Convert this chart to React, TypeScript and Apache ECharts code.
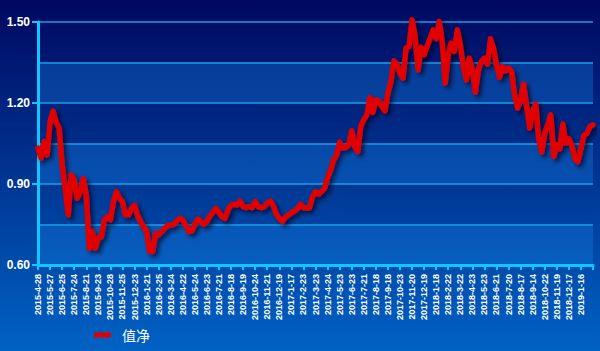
import React, { useEffect, useRef } from "react";
import * as echarts from "echarts";

const tickLabels: string[] = [
  "2015-4-28", "2015-5-27", "2015-6-25", "2015-7-24", "2015-8-21", "2015-9-23",
  "2015-10-28", "2015-11-25", "2015-12-23", "2016-1-21", "2016-2-25", "2016-3-24",
  "2016-4-22", "2016-5-24", "2016-6-23", "2016-7-21", "2016-8-18", "2016-9-19",
  "2016-10-24", "2016-11-21", "2016-12-19", "2017-1-17", "2017-2-23", "2017-3-23",
  "2017-4-24", "2017-5-23", "2017-6-23", "2017-7-21", "2017-8-18", "2017-9-18",
  "2017-10-23", "2017-11-20", "2017-12-19", "2018-1-18", "2018-2-22", "2018-3-22",
  "2018-4-23", "2018-5-23", "2018-6-21", "2018-7-20", "2018-8-17", "2018-9-14",
  "2018-10-22", "2018-11-19", "2018-12-17", "2019-1-16",
];
const endDate = "2019-2-21";

// weekly net values (4 per label interval)
const navValues: number[] = [
  1.033, 0.996, 1.057, 1.008, 1.131, 1.17, 1.13, 1.107, 0.97, 0.884,
  0.785, 0.934, 0.915, 0.847, 0.872, 0.92, 0.86, 0.662, 0.724, 0.662,
  0.70, 0.705, 0.767, 0.779, 0.767, 0.835, 0.872, 0.847, 0.835, 0.785,
  0.785, 0.81, 0.822, 0.785, 0.76, 0.742, 0.724, 0.65, 0.65, 0.717,
  0.711, 0.724, 0.736, 0.746, 0.748, 0.751, 0.763, 0.773, 0.767, 0.748,
  0.724, 0.726, 0.751, 0.771, 0.761, 0.751, 0.761, 0.783, 0.795, 0.81,
  0.795, 0.779, 0.773, 0.804, 0.822, 0.825, 0.822, 0.837, 0.816, 0.813,
  0.816, 0.813, 0.835, 0.816, 0.813, 0.816, 0.829, 0.837, 0.82, 0.788,
  0.773, 0.761, 0.777, 0.785, 0.794, 0.80, 0.808, 0.825, 0.813, 0.81,
  0.813, 0.853, 0.872, 0.862, 0.872, 0.884, 0.924, 0.952, 0.989, 1.008,
  1.055, 1.033, 1.035, 1.045, 1.097, 1.039, 1.02, 1.113, 1.138, 1.156,
  1.22, 1.165, 1.212, 1.208, 1.187, 1.171, 1.237, 1.28, 1.356, 1.344,
  1.311, 1.292, 1.403, 1.41, 1.508, 1.447, 1.323, 1.406, 1.379, 1.41,
  1.44, 1.471, 1.438, 1.502, 1.428, 1.274, 1.379, 1.422, 1.391, 1.471,
  1.416, 1.335, 1.286, 1.366, 1.323, 1.24, 1.323, 1.354, 1.366, 1.344,
  1.438, 1.403, 1.342, 1.295, 1.335, 1.319, 1.329, 1.317, 1.23, 1.181,
  1.212, 1.27, 1.187, 1.107, 1.169, 1.196, 1.064, 1.018, 1.088, 1.119,
  1.156, 1.002, 1.045, 1.03, 1.122, 1.051, 1.067, 1.042, 0.993, 0.983,
  1.033, 1.08, 1.088, 1.113, 1.119,
];

const seriesName = "值净";
const yMin = 0.6;
const yMax = 1.5;

const categories: string[] = [];
tickLabels.forEach((d) => {
  categories.push(d);
  for (let w = 1; w <= 3; w++) categories.push(`${d} +${w}w`);
});
categories.push(endDate);

const STEP = 4;
const LAST = categories.length - 1;

export default function App() {
  const ref = useRef<HTMLDivElement>(null);
  useEffect(() => {
    if (!ref.current) return;
    const chart = echarts.init(ref.current, null, { renderer: "svg" });
    const cyan = "#10c8ff";
    const font = "Arial, 'Liberation Sans', sans-serif";
    chart.setOption({
      animation: false,
      backgroundColor: {
        type: "linear",
        x: 0, y: 0, x2: 0, y2: 1,
        colorStops: [
          { offset: 0, color: "#000860" },
          { offset: 1, color: "#0062c4" },
        ],
      },
      grid: { left: 38, right: 7, top: 22, bottom: 86, containLabel: false },
      legend: {
        data: [seriesName],
        left: 89,
        top: 323,
        icon: "roundRect",
        itemWidth: 17,
        itemHeight: 5,
        textStyle: {
          color: "#ffffff",
          fontSize: 14,
          fontFamily: "'Noto Sans CJK SC', sans-serif",
          padding: [0, 0, 0, 6],
        },
      },
      xAxis: {
        type: "category",
        data: categories,
        boundaryGap: false,
        axisLine: { show: true, lineStyle: { color: cyan, width: 3 } },
        axisTick: {
          show: true,
          interval: (i: number) => i % STEP === 0,
          length: 5,
          lineStyle: { color: cyan, width: 2 },
        },
        axisLabel: {
          interval: (i: number) => i % STEP === 0 && i < LAST,
          rotate: 90,
          color: "#ffffff",
          fontSize: 9,
          fontWeight: "bold",
          fontFamily: font,
          margin: 9,
        },
        splitLine: { show: false },
      },
      yAxis: [
        {
          type: "value",
          min: yMin,
          max: yMax,
          interval: 0.15,
          axisLine: { show: true, lineStyle: { color: cyan, width: 3 } },
          axisTick: { show: false },
          axisLabel: { show: false },
          splitLine: { show: true, lineStyle: { color: "#1a9ee6", width: 1.5 } },
          splitArea: {
            show: true,
            areaStyle: { color: ["rgba(20,130,230,0.34)", "rgba(0,0,0,0)"] },
          },
        },
        {
          type: "value",
          min: yMin,
          max: yMax,
          interval: 0.3,
          position: "left",
          axisLine: { show: false },
          axisTick: { show: true, length: 6, lineStyle: { color: cyan, width: 2 } },
          axisLabel: {
            color: "#ffffff",
            fontSize: 12,
            fontWeight: "bold",
            fontFamily: font,
            margin: 8,
            formatter: (v: number) => v.toFixed(2),
          },
          splitLine: { show: false },
        },
      ],
      series: [
        {
          name: seriesName,
          type: "line",
          data: navValues,
          yAxisIndex: 0,
          showSymbol: false,
          symbol: "none",
          clip: false,
          itemStyle: { color: "#e00000" },
          lineStyle: {
            color: "#e00000",
            width: 5.5,
            join: "round",
            cap: "round",
            shadowColor: "rgba(0,0,30,0.65)",
            shadowBlur: 4,
            shadowOffsetX: 3,
            shadowOffsetY: 3,
          },
        },
      ],
    });
    return () => chart.dispose();
  }, []);
  return (
    <div
      ref={ref}
      style={{ position: "fixed", left: 0, top: 0, width: 600, height: 351 }}
    />
  );
}
